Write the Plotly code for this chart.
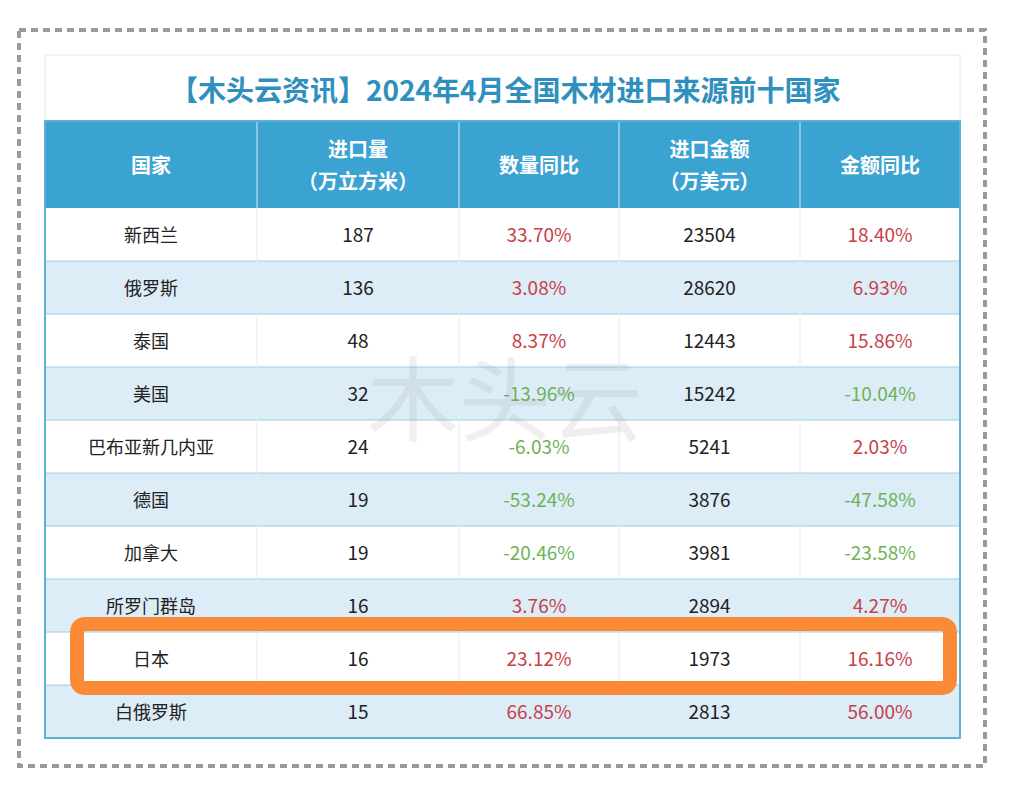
import plotly.graph_objects as go

W, H = 1009, 792
OFF = 8  # page body margin in the browser

title = "【木头云资讯】2024年4月全国木材进口来源前十国家"
headers = ["国家", "进口量|（万立方米）", "数量同比", "进口金额|（万美元）", "金额同比"]
countries = ["新西兰", "俄罗斯", "泰国", "美国", "巴布亚新几内亚", "德国", "加拿大", "所罗门群岛", "日本", "白俄罗斯"]
volume = [187, 136, 48, 32, 24, 19, 19, 16, 16, 15]
volume_yoy = [33.70, 3.08, 8.37, -13.96, -6.03, -53.24, -20.46, 3.76, 23.12, 66.85]
amount = [23504, 28620, 12443, 15242, 5241, 3876, 3981, 2894, 1973, 2813]
amount_yoy = [18.40, 6.93, 15.86, -10.04, 2.03, -47.58, -23.58, 4.27, 16.16, 56.00]
highlight = "日本"

# layout in picture pixels
col_edges = [45, 257, 459, 619, 800, 960]
head_top, head_h, row_h = 121, 87, 53

RED = "#c8404a"
GREEN = "#6db356"
BLACK = "#222222"
BLUE = "#3ba3d1"
ROW_BLUE = "#dcedf7"
FONT = "Noto Sans CJK SC"

n = len(countries)
body_top = head_top + head_h
tbl_bottom = body_top + n * row_h
tbl_x0, tbl_x1 = col_edges[0], col_edges[-1]
col_cx = [(a + b) / 2 for a, b in zip(col_edges[:-1], col_edges[1:])]
row_cy = [body_top + (i + 0.5) * row_h + 2.5 for i in range(n)]

shapes = [
    # outer dashed frame
    dict(type="rect", x0=19, x1=985, y0=30, y1=766, line=dict(color="#9a9a9a", width=4, dash="7px,5px")),
    # white panel behind the title
    dict(type="rect", x0=tbl_x0, x1=tbl_x1, y0=55, y1=tbl_bottom, line=dict(color="#e6e6e6", width=1),
         fillcolor="white", layer="below"),
    # header band
    dict(type="rect", x0=tbl_x0, x1=tbl_x1, y0=head_top, y1=body_top, line=dict(width=0),
         fillcolor=BLUE, layer="below"),
]
# striped rows
for i in range(n):
    if i % 2 == 1:
        shapes.append(dict(type="rect", x0=tbl_x0, x1=tbl_x1, y0=body_top + i * row_h, y1=body_top + (i + 1) * row_h,
                           line=dict(width=0), fillcolor=ROW_BLUE, layer="below"))
    if i > 0:
        shapes.append(dict(type="line", x0=tbl_x0, x1=tbl_x1, y0=body_top + i * row_h, y1=body_top + i * row_h,
                           line=dict(color="#9fcde4", width=1), layer="below"))
# column separators
for x in col_edges[1:-1]:
    shapes.append(dict(type="line", x0=x, x1=x, y0=head_top, y1=body_top, line=dict(color="#d6ebf5", width=1),
                       layer="below"))
    shapes.append(dict(type="line", x0=x, x1=x, y0=body_top, y1=tbl_bottom, line=dict(color="#e3edf2", width=1),
                       layer="below"))
# table frame
shapes.append(dict(type="rect", x0=tbl_x0, x1=tbl_x1, y0=head_top, y1=tbl_bottom, line=dict(color="#5fb0d8", width=2)))

# orange rounded box around the highlighted row
i = countries.index(highlight)
y0 = body_top + i * row_h - 8
y1 = y0 + row_h + 11
x0, x1, r = 77, 950, 9
shapes.append(dict(
    type="path",
    path=(f"M{x0+r},{y0} L{x1-r},{y0} Q{x1},{y0} {x1},{y0+r} L{x1},{y1-r} Q{x1},{y1} {x1-r},{y1} "
          f"L{x0+r},{y1} Q{x0},{y1} {x0},{y1-r} L{x0},{y0+r} Q{x0},{y0} {x0+r},{y0} Z"),
    line=dict(color="#fa8a36", width=14),
))

fig = go.Figure()

# header texts (two-line headers are split so the line gap can follow the picture)
hx, hy, ht = [], [], []
mid = head_top + head_h / 2
for cx, h in zip(col_cx, headers):
    parts = h.split("|")
    if len(parts) == 1:
        hx.append(cx); hy.append(mid + 3); ht.append("<b>%s</b>" % parts[0])
    else:
        hx += [cx, cx]; hy += [mid - 13, mid + 19]; ht += ["<b>%s</b>" % p for p in parts]
fig.add_trace(go.Scatter(
    x=hx, y=hy, mode="text", text=ht,
    textfont=dict(family=FONT, size=20, color="white"),
    hoverinfo="skip",
))

cols = [
    (countries, [BLACK] * n, 18),
    ([str(v) for v in volume], [BLACK] * n, 19),
    (["%.2f%%" % v for v in volume_yoy], [RED if v >= 0 else GREEN for v in volume_yoy], 19),
    ([str(v) for v in amount], [BLACK] * n, 19),
    (["%.2f%%" % v for v in amount_yoy], [RED if v >= 0 else GREEN for v in amount_yoy], 19),
]
for cx, (texts, colors, size) in zip(col_cx, cols):
    fig.add_trace(go.Scatter(
        x=[cx] * n, y=row_cy, mode="text", text=texts,
        textfont=dict(family=FONT, size=size, color=colors),
        hoverinfo="skip",
    ))

fig.update_layout(
    width=W - 2 * OFF, height=H - 2 * OFF,
    margin=dict(l=0, r=0, t=0, b=0),
    paper_bgcolor="white", plot_bgcolor="white",
    xaxis=dict(range=[OFF, W - OFF], visible=False, fixedrange=True),
    yaxis=dict(range=[H - OFF, OFF], visible=False, fixedrange=True),
    shapes=shapes,
    showlegend=False,
    annotations=[
        dict(x=(tbl_x0 + tbl_x1) / 2 + 3, y=89, text="<b>%s</b>" % title, showarrow=False,
             font=dict(family=FONT, size=28, color="#2f90bd")),
        dict(x=505, y=393, text="木头云", showarrow=False,
             font=dict(family=FONT, size=92, color="rgba(120,120,120,0.12)")),
    ],
)

fig.write_html("out.html")
